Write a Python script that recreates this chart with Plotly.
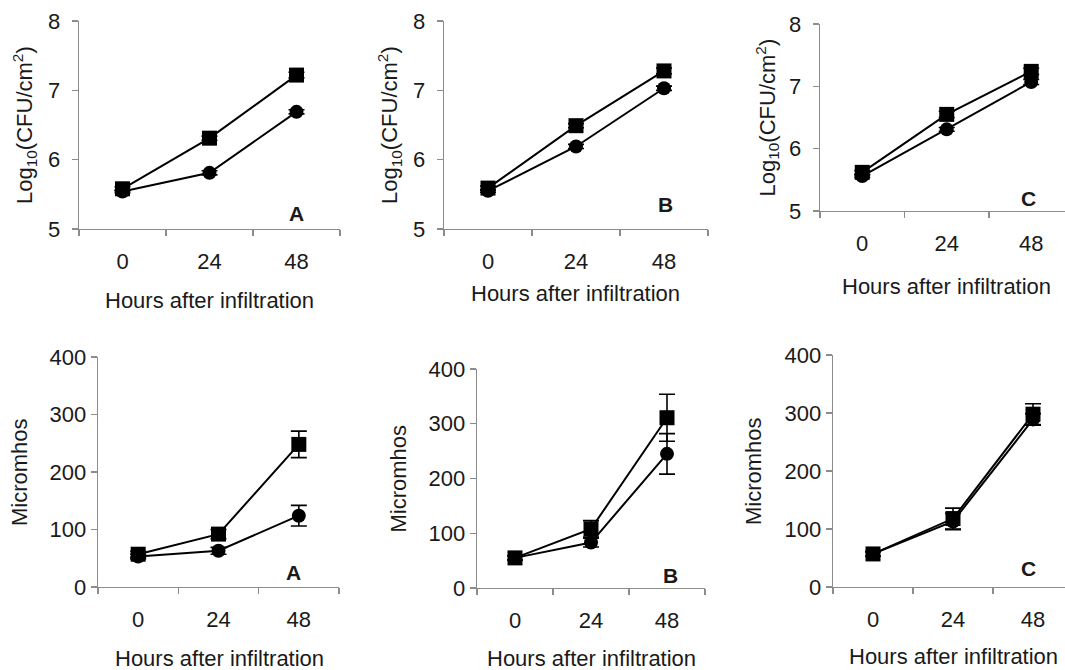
import plotly.graph_objects as go

W, H = 1065, 670

hours = ["0", "24", "48"]

# Top row: Log10(CFU/cm2)
cfu_A_sq = [5.58, 6.31, 7.22]
cfu_A_ci = [5.54, 5.81, 6.69]
cfu_B_sq = [5.59, 6.49, 7.28]
cfu_B_ci = [5.55, 6.19, 7.03]
cfu_C_sq = [5.62, 6.55, 7.24]
cfu_C_ci = [5.56, 6.31, 7.07]
cfu_A_sq_err = [0.03, 0.03, 0.04]
cfu_A_ci_err = [0.02, 0.03, 0.03]
cfu_B_sq_err = [0.03, 0.03, 0.04]
cfu_B_ci_err = [0.02, 0.03, 0.03]
cfu_C_sq_err = [0.03, 0.05, 0.05]
cfu_C_ci_err = [0.02, 0.03, 0.04]

# Bottom row: Micromhos
mho_A_sq = [57, 92, 248]
mho_A_ci = [53, 63, 124]
mho_B_sq = [55, 108, 311]
mho_B_ci = [55, 83, 245]
mho_C_sq = [57, 118, 298]
mho_C_ci = [57, 113, 289]
mho_A_sq_err = [5, 8, 23]
mho_A_ci_err = [4, 6, 18]
mho_B_sq_err = [4, 15, 43]
mho_B_ci_err = [4, 8, 37]
mho_C_sq_err = [4, 18, 18]
mho_C_ci_err = [4, 14, 10]

panel_letters = ["A", "B", "C"]
x_title = "Hours after infiltration"
y_title_top = "Log<sub>10</sub>(CFU/cm<sup>2</sup>)"
y_title_bot = "Micromhos"

# Panel geometry in pixels: (x0, x1, ytop, ybottom, xrange_max)
panels = [
    (79, 340, 21, 229, 2.5),
    (444, 708, 21, 229, 2.5),
    (820, 1065, 24, 211, 2.4),
    (98, 339, 357, 587, 2.5),
    (477, 705, 369, 588, 2.5),
    (833, 1065, 355, 587, 2.4),
]

series = [
    (cfu_A_sq, cfu_A_sq_err, cfu_A_ci, cfu_A_ci_err),
    (cfu_B_sq, cfu_B_sq_err, cfu_B_ci, cfu_B_ci_err),
    (cfu_C_sq, cfu_C_sq_err, cfu_C_ci, cfu_C_ci_err),
    (mho_A_sq, mho_A_sq_err, mho_A_ci, mho_A_ci_err),
    (mho_B_sq, mho_B_sq_err, mho_B_ci, mho_B_ci_err),
    (mho_C_sq, mho_C_sq_err, mho_C_ci, mho_C_ci_err),
]

FONT = "Liberation Sans, Arial, sans-serif"
TXT = "#1a1a1a"
AXC = "#8c8c8c"
FS = 22

fig = go.Figure()
layout = dict(
    template="none",
    width=W, height=H, margin=dict(l=0, r=0, t=0, b=0, autoexpand=False),
    paper_bgcolor="white", plot_bgcolor="white", showlegend=False,
    font=dict(family=FONT, size=FS, color=TXT),
    annotations=[],
)


def px_x(p):
    return p / W


def px_y(p):
    return 1 - p / H


for i, (pan, ser) in enumerate(zip(panels, series)):
    n = i + 1
    xa = "x" if n == 1 else f"x{n}"
    ya = "y" if n == 1 else f"y{n}"
    x0, x1, yt, yb, xmax = pan
    sq, sq_e, ci, ci_e = ser
    # circles first, squares on top
    fig.add_trace(go.Scatter(
        x=hours, y=ci, xaxis=xa, yaxis=ya, mode="lines+markers",
        line=dict(color="black", width=2),
        marker=dict(symbol="circle", size=14, color="black"),
        error_y=dict(type="data", array=ci_e, color="black", thickness=1.6, width=8),
        cliponaxis=False,
    ))
    fig.add_trace(go.Scatter(
        x=hours, y=sq, xaxis=xa, yaxis=ya, mode="lines+markers",
        line=dict(color="black", width=2),
        marker=dict(symbol="square", size=15, color="black"),
        error_y=dict(type="data", array=sq_e, color="black", thickness=1.6, width=8),
        cliponaxis=False,
    ))
    top = i < 3
    xkey = "xaxis" if n == 1 else f"xaxis{n}"
    ykey = "yaxis" if n == 1 else f"yaxis{n}"
    layout[xkey] = dict(
        domain=[px_x(x0), px_x(x1)], anchor=ya, type="category",
        categoryorder="array", categoryarray=hours,
        range=[-0.5, xmax], tickson="boundaries", automargin=False,
        showline=True, linecolor=AXC, linewidth=1.3,
        ticks="outside", ticklen=6, tickcolor=AXC, tickwidth=1.3,
        showgrid=False, zeroline=False, ticklabelstandoff=12,
        tickfont=dict(size=FS, color=TXT, family=FONT), fixedrange=True,
    )
    layout[ykey] = dict(
        domain=[px_y(yb), px_y(yt)], anchor=xa, automargin=False,
        range=[5, 8] if top else [0, 400],
        tickvals=[5, 6, 7, 8] if top else [0, 100, 200, 300, 400],
        showline=True, linecolor=AXC, linewidth=1.3,
        ticks="outside", ticklen=6, tickcolor=AXC, tickwidth=1.3,
        showgrid=False, zeroline=False,
        ticklabelstandoff=7 if top else 0,
        tickfont=dict(size=FS, color=TXT, family=FONT), fixedrange=True,
    )
    # panel letter
    letter_pos = [(296, 213), (665, 204), (1028, 198), (293, 572), (670, 575), (1028, 568)][i]
    layout["annotations"].append(dict(
        x=px_x(letter_pos[0]), y=px_y(letter_pos[1]), xref="paper", yref="paper",
        text=f"<b>{panel_letters[i % 3]}</b>", showarrow=False,
        font=dict(size=FS - 1, color=TXT, family=FONT), xanchor="center", yanchor="middle",
    ))
    # x axis title
    xt_y = [300, 293, 287, 658, 658, 656][i]
    xt_x = [209, 576, 946, 219, 591, 953][i]
    layout["annotations"].append(dict(
        x=px_x(xt_x), y=px_y(xt_y), xref="paper", yref="paper",
        text=x_title, showarrow=False,
        font=dict(size=FS, color=TXT, family=FONT), xanchor="center", yanchor="middle",
    ))
    # y axis title
    yt_x = [25, 390, 767, 20, 398, 753][i]
    layout["annotations"].append(dict(
        x=px_x(yt_x), y=px_y((yt + yb) / 2), xref="paper", yref="paper",
        text=y_title_top if top else y_title_bot, showarrow=False, textangle=-90,
        font=dict(size=FS, color=TXT, family=FONT), xanchor="center", yanchor="middle",
    ))

fig.update_layout(**layout)
fig.write_html(
    "out.html",
    config={"displayModeBar": False, "staticPlot": True},
    post_script="document.body.style.margin='0px';document.body.style.overflow='hidden';",
)
